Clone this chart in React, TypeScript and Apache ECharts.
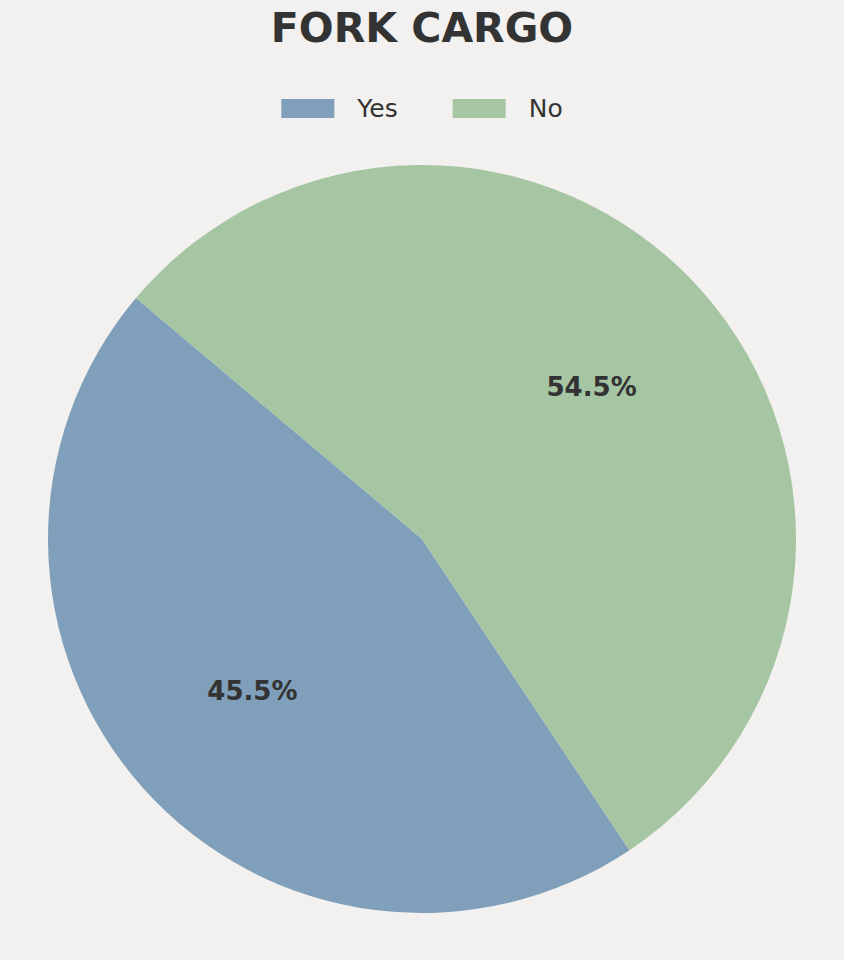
import React, { useEffect, useRef } from "react";
import * as echarts from "echarts";

const categories = ["Yes", "No"];
const values = [45.5, 54.5];
const colors = ["#7f9fba", "#a6c6a3"];

export default function App() {
  const ref = useRef<HTMLDivElement>(null);
  useEffect(() => {
    document.body.style.margin = "0";
    const chart = echarts.init(ref.current!, null, { renderer: "svg" });
    const data = categories.map((name, i) => ({ name, value: values[i] }));
    chart.setOption({
      animation: false,
      backgroundColor: "#f2f1ef",
      title: {
        text: "FORK CARGO",
        left: "center",
        top: 2,
        textStyle: {
          fontFamily: "DejaVu Sans",
          fontWeight: "bold",
          fontSize: 41,
          color: "#333333",
        },
      },
      legend: {
        data: categories,
        top: 91,
        left: "center",
        icon: "rect",
        itemWidth: 53,
        itemHeight: 19,
        itemGap: 55,
        textStyle: {
          fontFamily: "DejaVu Sans",
          fontSize: 25,
          color: "#333333",
          padding: [0, 0, 0, 18],
        },
      },
      color: colors,
      series: [
        {
          type: "pie",
          center: [422, 539],
          radius: [0, 374],
          startAngle: 139.9,
          clockwise: false,
          data,
          label: { show: false },
          labelLine: { show: false },
          itemStyle: { borderWidth: 0 },
          emphasis: { disabled: true },
        },
        {
          type: "pie",
          center: [422, 539],
          radius: [75, 374],
          startAngle: 139.9,
          clockwise: false,
          data,
          silent: true,
          itemStyle: { color: "transparent", borderWidth: 0 },
          label: {
            show: true,
            position: "inside",
            formatter: (p: any) => p.value.toFixed(1) + "%",
            fontFamily: "DejaVu Sans",
            fontWeight: "bold",
            fontSize: 26,
            color: "#333333",
          },
          labelLine: { show: false },
          emphasis: { disabled: true },
        },
      ],
    });
    return () => chart.dispose();
  }, []);
  return <div ref={ref} style={{ width: 844, height: 960 }} />;
}
